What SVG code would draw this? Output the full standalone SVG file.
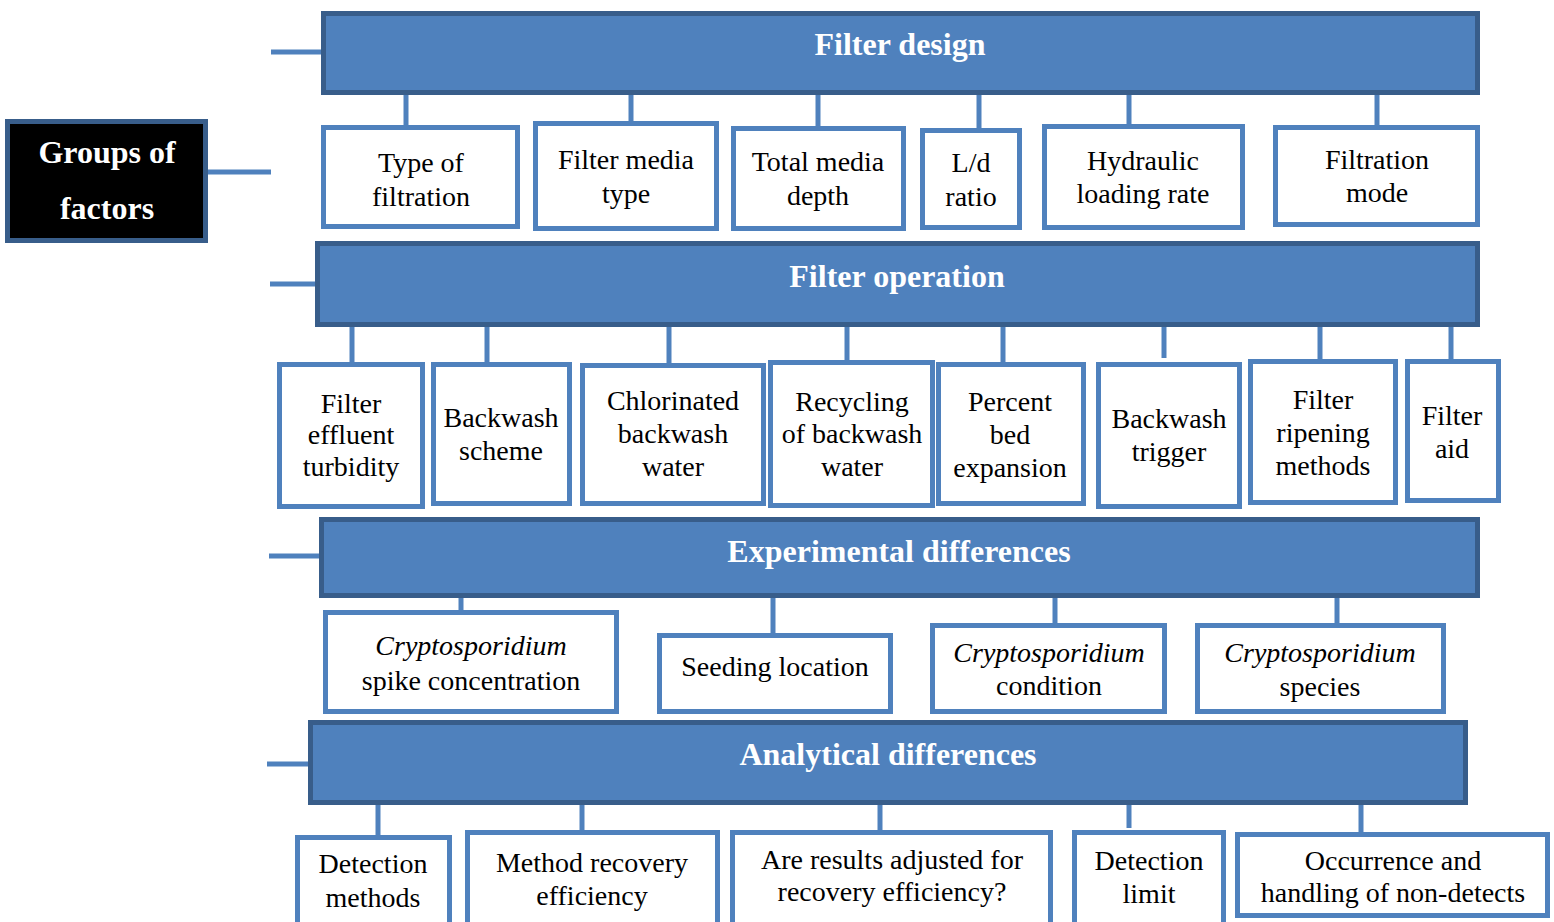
<svg xmlns="http://www.w3.org/2000/svg" width="1554" height="922" viewBox="0 0 1554 922">
<style>
.banner{fill:#4F81BD;stroke:#385D8A;stroke-width:5}
.box{fill:#FFFFFF;stroke:#4F81BD;stroke-width:5}
.root{fill:#000000;stroke:#385D8A;stroke-width:5}
.conn line{stroke:#4F81BD;stroke-width:5}
.bt{font-family:"Liberation Serif","Times New Roman",serif;font-weight:bold;font-size:32px;fill:#FFFFFF;text-anchor:middle}
.t{font-family:"Liberation Serif","Times New Roman",serif;font-size:28px;fill:#000000;text-anchor:middle}
.i{font-style:italic}
</style>
<rect width="1554" height="922" fill="#FFFFFF"/>
<g id="connectors" class="conn">
<line x1="208" y1="172" x2="271" y2="172"/>
<line x1="271" y1="52" x2="323" y2="52"/>
<line x1="270" y1="284" x2="317" y2="284"/>
<line x1="269" y1="556" x2="321" y2="556"/>
<line x1="267" y1="764" x2="310" y2="764"/>
<line x1="406" y1="93" x2="406" y2="127"/>
<line x1="631" y1="93" x2="631" y2="123"/>
<line x1="818" y1="93" x2="818" y2="128"/>
<line x1="979" y1="93" x2="979" y2="130"/>
<line x1="1129" y1="93" x2="1129" y2="126"/>
<line x1="1377" y1="93" x2="1377" y2="127"/>
<line x1="352" y1="325" x2="352" y2="364"/>
<line x1="487" y1="325" x2="487" y2="364"/>
<line x1="669" y1="325" x2="669" y2="365"/>
<line x1="847" y1="325" x2="847" y2="362"/>
<line x1="1003" y1="325" x2="1003" y2="364"/>
<line x1="1164" y1="325" x2="1164" y2="358"/>
<line x1="1320" y1="325" x2="1320" y2="361"/>
<line x1="1451" y1="325" x2="1451" y2="361"/>
<line x1="461" y1="596" x2="461" y2="616"/>
<line x1="773" y1="596" x2="773" y2="635"/>
<line x1="1055" y1="596" x2="1055" y2="625"/>
<line x1="1337" y1="596" x2="1337" y2="625"/>
<line x1="378" y1="803" x2="378" y2="840"/>
<line x1="582" y1="803" x2="582" y2="832"/>
<line x1="880" y1="803" x2="880" y2="832"/>
<line x1="1129" y1="803" x2="1129" y2="828"/>
<line x1="1361" y1="803" x2="1361" y2="834"/>
</g>
<g id="groups">
<rect class="root" x="7.5" y="121.5" width="198" height="119"/>
<text class="bt" x="107" y="163">Groups of</text>
<text class="bt" x="107" y="219">factors</text>
</g>
<g id="filter-design">
<rect class="banner" x="323.5" y="13.5" width="1154" height="79"/>
<text class="bt" x="900" y="55">Filter design</text>
</g>
<g id="filter-operation">
<rect class="banner" x="317.5" y="243.5" width="1160" height="81"/>
<text class="bt" x="897" y="287">Filter operation</text>
</g>
<g id="experimental-differences">
<rect class="banner" x="321.5" y="519.5" width="1156" height="76"/>
<text class="bt" x="899" y="562">Experimental differences</text>
</g>
<g id="analytical-differences">
<rect class="banner" x="310.5" y="722.5" width="1155" height="80"/>
<text class="bt" x="888" y="765">Analytical differences</text>
</g>
<g id="type-of-filtration">
<rect class="box" x="323.5" y="127.5" width="194" height="99"/>
<text class="t" x="421" y="172">Type of</text>
<text class="t" x="421" y="206">filtration</text>
</g>
<g id="filter-media-type">
<rect class="box" x="535.5" y="123.5" width="181" height="105"/>
<text class="t" x="626" y="169">Filter media</text>
<text class="t" x="626" y="203">type</text>
</g>
<g id="total-media-depth">
<rect class="box" x="733.5" y="128.5" width="170" height="100"/>
<text class="t" x="818" y="171">Total media</text>
<text class="t" x="818" y="205">depth</text>
</g>
<g id="ld-ratio">
<rect class="box" x="922.5" y="130.5" width="97" height="97"/>
<text class="t" x="971" y="172">L/d</text>
<text class="t" x="971" y="206">ratio</text>
</g>
<g id="hydraulic-loading-rate">
<rect class="box" x="1044.5" y="126.5" width="198" height="101"/>
<text class="t" x="1143" y="170">Hydraulic</text>
<text class="t" x="1143" y="203">loading rate</text>
</g>
<g id="filtration-mode">
<rect class="box" x="1275.5" y="127.5" width="202" height="97"/>
<text class="t" x="1377" y="169">Filtration</text>
<text class="t" x="1377" y="202">mode</text>
</g>
<g id="filter-effluent-turbidity">
<rect class="box" x="279.5" y="364.5" width="143" height="142"/>
<text class="t" x="351" y="413">Filter</text>
<text class="t" x="351" y="444">effluent</text>
<text class="t" x="351" y="476">turbidity</text>
</g>
<g id="backwash-scheme">
<rect class="box" x="433.5" y="364.5" width="136" height="139"/>
<text class="t" x="501" y="427">Backwash</text>
<text class="t" x="501" y="460">scheme</text>
</g>
<g id="chlorinated-backwash-water">
<rect class="box" x="582.5" y="365.5" width="181" height="138"/>
<text class="t" x="673" y="410">Chlorinated</text>
<text class="t" x="673" y="443">backwash</text>
<text class="t" x="673" y="476">water</text>
</g>
<g id="recycling-of-backwash-water">
<rect class="box" x="770.5" y="362.5" width="162" height="143"/>
<text class="t" x="852" y="411">Recycling</text>
<text class="t" x="852" y="443">of backwash</text>
<text class="t" x="852" y="476">water</text>
</g>
<g id="percent-bed-expansion">
<rect class="box" x="938.5" y="364.5" width="145" height="139"/>
<text class="t" x="1010" y="411">Percent</text>
<text class="t" x="1010" y="444">bed</text>
<text class="t" x="1010" y="477">expansion</text>
</g>
<g id="backwash-trigger">
<rect class="box" x="1098.5" y="364.5" width="141" height="142"/>
<text class="t" x="1169" y="428">Backwash</text>
<text class="t" x="1169" y="461">trigger</text>
</g>
<g id="filter-ripening-methods">
<rect class="box" x="1250.5" y="361.5" width="145" height="141"/>
<text class="t" x="1323" y="409">Filter</text>
<text class="t" x="1323" y="442">ripening</text>
<text class="t" x="1323" y="475">methods</text>
</g>
<g id="filter-aid">
<rect class="box" x="1407.5" y="361.5" width="91" height="139"/>
<text class="t" x="1452" y="425">Filter</text>
<text class="t" x="1452" y="458">aid</text>
</g>
<g id="spike-concentration">
<rect class="box" x="325.5" y="612.5" width="291" height="99"/>
<text class="t i" x="471" y="655">Cryptosporidium</text>
<text class="t" x="471" y="690">spike concentration</text>
</g>
<g id="seeding-location">
<rect class="box" x="659.5" y="635.5" width="231" height="76"/>
<text class="t" x="775" y="676">Seeding location</text>
</g>
<g id="crypto-condition">
<rect class="box" x="932.5" y="625.5" width="232" height="86"/>
<text class="t i" x="1049" y="662">Cryptosporidium</text>
<text class="t" x="1049" y="695">condition</text>
</g>
<g id="crypto-species">
<rect class="box" x="1197.5" y="625.5" width="246" height="86"/>
<text class="t i" x="1320" y="662">Cryptosporidium</text>
<text class="t" x="1320" y="696">species</text>
</g>
<g id="detection-methods">
<rect class="box" x="297.5" y="837.5" width="152" height="100"/>
<text class="t" x="373" y="873">Detection</text>
<text class="t" x="373" y="907">methods</text>
</g>
<g id="method-recovery-efficiency">
<rect class="box" x="467.5" y="832.5" width="250" height="100"/>
<text class="t" x="592" y="872">Method recovery</text>
<text class="t" x="592" y="905">efficiency</text>
</g>
<g id="results-adjusted">
<rect class="box" x="732.5" y="832.5" width="318" height="100"/>
<text class="t" x="892" y="869">Are results adjusted for</text>
<text class="t" x="892" y="901">recovery efficiency?</text>
</g>
<g id="detection-limit">
<rect class="box" x="1074.5" y="832.5" width="149" height="100"/>
<text class="t" x="1149" y="870">Detection</text>
<text class="t" x="1149" y="903">limit</text>
</g>
<g id="non-detects">
<rect class="box" x="1237.5" y="834.5" width="310" height="81"/>
<text class="t" x="1393" y="870">Occurrence and</text>
<text class="t" x="1393" y="902">handling of non-detects</text>
</g>
</svg>
